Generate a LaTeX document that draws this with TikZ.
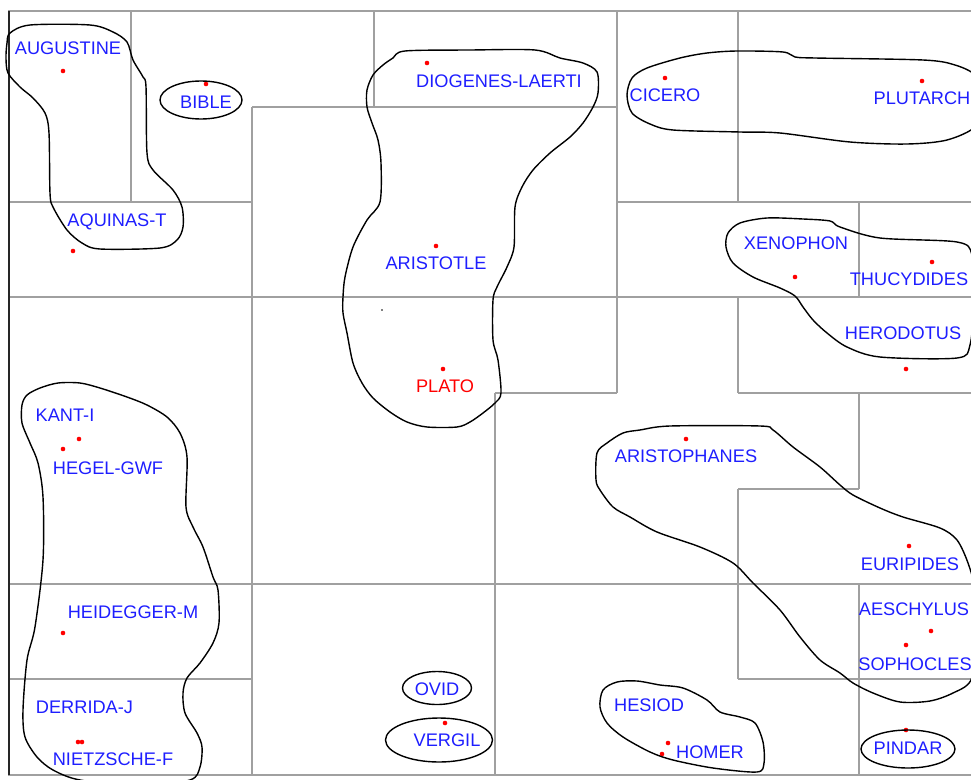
\documentclass[tikz,border=0pt]{standalone}
\usepackage{fontspec}
\setmainfont{Liberation Sans}
\usetikzlibrary{positioning}
\definecolor{mBlue}{HTML}{1E1EFF}
\definecolor{mRed}{HTML}{FF0000}
\definecolor{mWall}{HTML}{A0A0A0}

\begin{document}
\begin{tikzpicture}[x=1pt, y=-1pt,
    wall/.style={mWall, line width=1.3pt},
    blob/.style={black, line width=1.4pt},
    lbl/.style={inner sep=0pt, text=mBlue, font=\fontsize{18.2}{19}\selectfont},
    reddot/.style={circle, fill=mRed, inner sep=0pt, minimum size=4.6pt}]
  \useasboundingbox (0,0) rectangle (971,779);
  \clip (0,0) rectangle (971,779);

  % cells
  \draw[wall] (9,11) rectangle (990,775);
  \foreach \xa/\ya/\xb/\yb in {131/11/131/202, 9/202/252/202, 252/107/252/775,
      252/107/617/107, 374/11/374/107, 617/11/617/393, 617/202/990/202,
      738/11/738/202, 859/202/859/297, 9/297/990/297, 738/297/738/393,
      738/393/990/393, 859/393/859/489, 738/489/859/489, 738/489/738/679,
      738/679/990/679, 495/393/617/393, 495/393/495/775, 9/584/990/584,
      9/679/252/679, 859/584/859/775} {
    \draw[wall] (\xa,\ya) -- (\xb,\yb);
  }
  \draw[black!85, line width=1.3pt] (9,11) -- (9,775);

  % authors
  \foreach \n/\t/\x/\y in {aug/AUGUSTINE/68/48.5, bib/BIBLE/206/102, aqu/AQUINAS-T/117/221.5,
      dio/DIOGENES-LAERTI/499/81, ari/ARISTOTLE/436/263, cic/CICERO/665/95,
      plu/PLUTARCH/922/98, xen/XENOPHON/796/243, thu/THUCYDIDES/909/279,
      her/HERODOTUS/903/333, kan/KANT-I/65/415, heg/HEGEL-GWF/108/468.5,
      aph/ARISTOPHANES/686/456, eur/EURIPIDES/910/564, aes/AESCHYLUS/914/609,
      sop/SOPHOCLES/915/664, hei/HEIDEGGER-M/133/612.5, der/DERRIDA-J/84.5/707.5,
      nie/NIETZSCHE-F/113/759.5, ovi/OVID/437/689, ver/VERGIL/447/740.5,
      hes/HESIOD/649/705.5, hom/HOMER/710/752, pin/PINDAR/908/748} {
    \node[lbl] (\n) at (\x,\y) {\t};
  }
  \node[lbl, text=mRed] (pla) at (445,386) {PLATO};

  \foreach \n/\x/\y in {aug/63/71, bib/206/84, aqu/73/251, dio/427/63, ari/436/246,
      pla/443/369, cic/665/78, plu/922/81, xen/795/277, thu/932/262, her/906/369,
      aph/686/439, eur/909/546, aes/931/631, sop/906/645, pin/906/730,
      hom/668/743, hes/662/754, kan/79/439, heg/63/449, hei/63/633,
      der/78/742, nie/82/742, ver/445/723} {
    \node[reddot] (d\n) at (\x,\y) {};
  }
  \fill (382,310) circle (0.9pt);

  % clusters
  \draw[blob] plot[smooth cycle] coordinates {(10,33) (30,25) (90,25) (113,32) (127,42)
      (133,60) (143,77) (146,87) (147,153) (153,170) (173,190) (182,207) (183,227)
      (177,240) (160,248) (100,249) (82,243) (67,230) (53,207) (50,193) (49,133)
      (45,113) (33,98) (20,87) (8,73) (6,58) (7,43)};
  \draw[blob] (201,100) ellipse [x radius=41, y radius=19];
  \draw[blob] plot[smooth cycle] coordinates {(405,51) (470,50) (535,50) (560,58)
      (583,63) (597,72) (598,93) (593,107) (583,123) (570,137) (550,153) (533,170)
      (522,187) (515,207) (514,247) (507,267) (497,287) (493,300) (493,340) (498,360)
      (501,393) (495,403) (483,413) (470,422) (457,427) (427,427) (407,422) (390,412)
      (373,398) (362,383) (353,363) (347,333) (343,313) (343,297) (345,277) (353,247)
      (367,220) (380,202) (381,163) (378,140) (372,123) (367,107) (367,90) (373,75)
      (383,65) (393,58)};
  \draw[blob] plot[smooth cycle] coordinates {(627,95) (632,78) (647,68) (680,58)
      (707,53) (737,51) (783,52) (795,57) (815,58) (923,60) (955,65) (976,76) (983,100)
      (976,126) (947,140) (907,144) (850,142) (780,133) (740,132) (673,130) (650,124)
      (632,113)};
  \draw[blob] plot[smooth cycle] coordinates {(728,233) (740,223) (767,218) (803,219)
      (830,221) (840,227) (880,238) (957,242) (972,255) (974,300) (970,345) (957,358)
      (880,357) (847,347) (827,333) (813,320) (803,307) (795,296) (780,288) (753,277)
      (733,263) (726,247)};
  \draw[blob] plot[smooth cycle] coordinates {(22,405) (27,395) (40,388) (58,383)
      (80,383) (100,388) (127,397) (147,405) (167,417) (180,433) (187,457) (186,507)
      (193,527) (203,547) (213,577) (218,590) (219,623) (213,643) (200,663) (187,678)
      (183,693) (185,713) (197,733) (202,747) (200,767) (190,780) (140,786) (80,780)
      (53,770) (37,757) (25,737) (23,710) (27,660) (35,627) (43,560) (43,497) (38,463)
      (30,443) (22,423)};
  \draw[blob] plot[smooth cycle] coordinates {(640,430) (670,426) (760,426) (773,430)
      (793,447) (820,467) (840,485) (853,495) (880,508) (903,517) (940,528) (957,540)
      (968,563) (975,590) (978,640) (971,680) (953,693) (930,701) (900,702) (873,693)
      (853,683) (840,673) (820,660) (800,637) (780,610) (753,583) (733,563) (700,547)
      (657,532) (630,517) (613,507) (600,490) (596,480) (597,453) (607,443) (623,433)};
  \draw[blob] (437,688) ellipse [x radius=34.5, y radius=16.5];
  \draw[blob] (439,740) ellipse [x radius=53.5, y radius=22];
  \draw[blob] plot[smooth cycle] coordinates {(600,707) (603,690) (617,682) (637,681)
      (660,685) (683,688) (707,700) (720,712) (740,717) (755,723) (763,742) (764,763)
      (757,772) (713,768) (673,760) (650,752) (623,737) (607,723)};
  \draw[blob] (908,749) ellipse [x radius=47, y radius=19];
\end{tikzpicture}
\end{document}
